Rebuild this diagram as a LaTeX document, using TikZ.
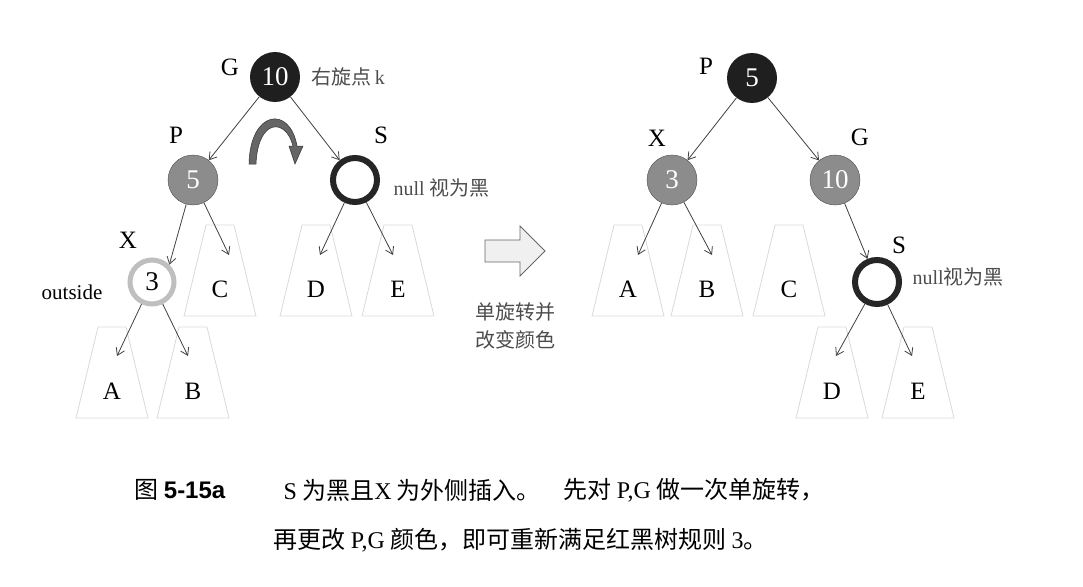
\documentclass[tikz,border=0pt]{standalone}
\usepackage{fontspec}
\setmainfont{Liberation Serif}
\newfontfamily\cjk{Noto Sans CJK SC}
\newfontfamily\capsans{Liberation Sans}
\usetikzlibrary{positioning,arrows.meta}
\tikzset{>={Straight Barb[length=7pt,width=9pt]},
  rb/.style={circle,minimum size=50pt,inner sep=0pt,font=\fontsize{27}{30}\selectfont},
  blk/.style={rb,fill=black!88,text=white},
  red/.style={rb,fill=black!45,draw=black!70,text=white},
  nil/.style={rb,draw=black!85,line width=6pt,minimum size=44pt},
  ins/.style={rb,draw=black!25,line width=5pt,minimum size=44pt},
  lbl/.style={font=\fontsize{25}{28}\selectfont},
  note/.style={font=\cjk\fontsize{20}{22}\selectfont,text=black!70},
  edge/.style={->,black!75,line width=.8pt},
  sub/.style={black!15,line width=.8pt},
  captext/.style={anchor=west,font=\cjk\fontsize{24}{28}\selectfont}}
% subtree: centre x, top y, name, letter
\newcommand\subtree[4]{%
  \draw[sub] (#1-14,#2) -- (#1+14,#2) -- (#1+36,#2+91) -- (#1-36,#2+91) -- cycle;
  \node[lbl] (#3) at (#1,#2+64) {#4};}
\begin{document}
\begin{tikzpicture}[x=1pt,y=-1pt]
\useasboundingbox (0,0) rectangle (1083,586);
% left tree
\node[blk] (g) at (275,77) {10};
\node[red] (p) at (193,180) {5};
\node[nil] (s) at (355,180) {};
\node[ins] (x) at (152,282) {3};
\node[lbl] at (230,67) {G};
\node[lbl] at (176,135) {P};
\node[lbl] at (381,135) {S};
\node[lbl] at (128,240) {X};
\node[lbl,font=\fontsize{21}{24}\selectfont] at (72,292) {outside};
\node[note,anchor=west] at (308,77) {右旋点\,\rmfamily k};
\node[note,anchor=west] at (390,188) {\rmfamily null \cjk 视为黑};
\subtree{220}{225}{c1}{C}
\subtree{316}{225}{d1}{D}
\subtree{398}{225}{e1}{E}
\subtree{112}{327}{a1}{A}
\subtree{193}{327}{b1}{B}
\draw[edge] (g) -- (p);
\draw[edge] (g) -- (s);
\draw[edge] (p) -- (x.north east);
\draw[edge] (p) -- (229,255);
\draw[edge] (s) -- (320,255);
\draw[edge] (s) -- (393,255);
\draw[edge] (x) -- (117,356);
\draw[edge] (x) -- (188,356);
\fill[black!60,draw=black!80,line width=.5pt] (249,164) .. controls (250,110) and (290,105) .. (297,146)
  -- (303,146) -- (295,164) -- (289,146) -- (293,146)
  .. controls (286,118) and (258,118) .. (256,164) -- cycle;
% middle
\draw[black!60,fill=black!6,line width=.8pt] (485,240) -- (520,240) -- (520,226) -- (545,251)
  -- (520,276) -- (520,262) -- (485,262) -- cycle;
\node[note,align=center,font=\cjk\fontsize{20}{28}\selectfont] at (515,326) {单旋转并\\改变颜色};
% right tree
\node[blk] (p2) at (752,78) {5};
\node[red] (x2) at (672,180) {3};
\node[red] (g2) at (835,180) {10};
\node[nil] (s2) at (877,282) {};
\node[lbl] at (706,66) {P};
\node[lbl] at (657,138) {X};
\node[lbl] at (860,137) {G};
\node[lbl] at (899,245) {S};
\node[note,anchor=west] at (909,277) {\rmfamily null\cjk 视为黑};
\subtree{628}{225}{a2}{A}
\subtree{707}{225}{b2}{B}
\subtree{789}{225}{c2}{C}
\subtree{832}{327}{d2}{D}
\subtree{918}{327}{e2}{E}
\draw[edge] (p2) -- (x2);
\draw[edge] (p2) -- (g2);
\draw[edge] (x2) -- (638,255);
\draw[edge] (x2) -- (712,255);
\draw[edge] (g2) -- (s2);
\draw[edge] (s2) -- (836,356);
\draw[edge] (s2) -- (912,356);
% caption
\node[captext] at (131,490) {图 {\capsans\bfseries 5-15a}};
\node[captext] at (280,490) {{\rmfamily S} 为黑且{\rmfamily X} 为外侧插入。};
\node[captext] at (560,490) {先对 {\rmfamily P,G} 做一次单旋转，};
\node[captext] at (270,540) {再更改 {\rmfamily P,G} 颜色，即可重新满足红黑树规则 {\rmfamily 3}。};
\end{tikzpicture}
\end{document}
